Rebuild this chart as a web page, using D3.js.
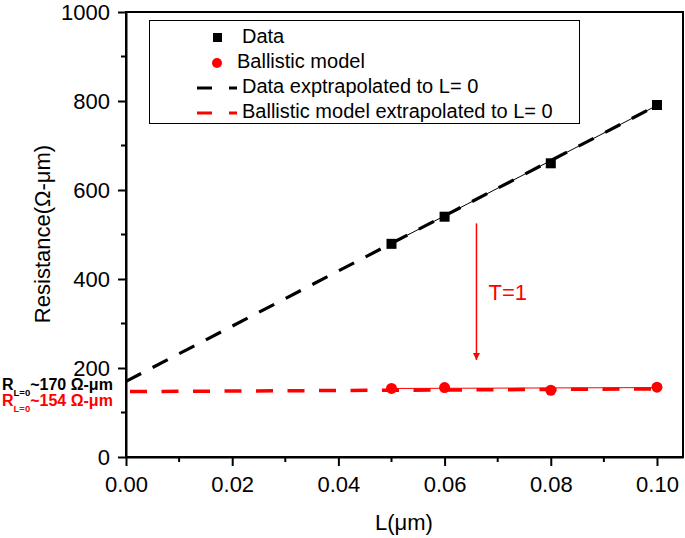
<!DOCTYPE html>
<html>
<head>
<meta charset="utf-8">
<script src="https://cdn.jsdelivr.net/npm/d3@7"></script>
<style>
  html, body { margin: 0; padding: 0; background: #fff; }
  svg { display: block; font-family: "Liberation Sans", Arial, sans-serif; }
</style>
</head>
<body>
<svg id="chart" width="685" height="538"></svg>
<script>
// ---- data ----
const lengths = [0.05, 0.06, 0.08, 0.10];
const dataR = [479, 540, 660, 791];
const ballisticR = [154, 156, 150, 157];
const dataExtrapL = [0, 0.10];
const dataExtrapR = [170, 790];
const ballExtrapL = [0, 0.10];
const ballExtrapR = [147, 153];
const dataFitL = [0.05, 0.10];
const dataFitR = [480, 790];
const ballFitL = [0.05, 0.10];
const ballFitR = [154, 156];
const xTicks = [0, 0.02, 0.04, 0.06, 0.08, 0.10];
const xMinorTicks = [0.01, 0.03, 0.05, 0.07, 0.09];
const yTicks = [0, 200, 400, 600, 800, 1000];
const yMinorTicks = [100, 300, 500, 700, 900];
const legendLabels = ["Data", "Ballistic model", "Data exptrapolated to L= 0", "Ballistic model extrapolated to L= 0"];
const arrowL = 0.066;
const arrowR = [525, 218];

(function () {
const svg = d3.select("#chart");
const mLeft = 126, mRight = 683, mTop = 12, mBottom = 457;
const x = d3.scaleLinear().domain([0, 0.1049]).range([mLeft, mRight]);
const y = d3.scaleLinear().domain([0, 1000]).range([mBottom, mTop]);
const red = "#ff0000";

// frame
svg.append("rect").attr("x", mLeft).attr("y", mTop).attr("width", mRight - mLeft).attr("height", mBottom - mTop)
  .attr("fill", "none").attr("stroke", "#000").attr("stroke-width", 2);

// x axis
const xAxis = svg.append("g").attr("transform", `translate(0,${mBottom})`)
  .call(d3.axisBottom(x).tickValues(xTicks).tickFormat(d3.format(".2f")).tickSize(9).tickSizeOuter(0));
xAxis.append("g").selectAll("line").data(xMinorTicks).join("line")
  .attr("x1", d => x(d)).attr("x2", d => x(d)).attr("y1", 0).attr("y2", 5).attr("stroke", "#000").attr("stroke-width", 2);
xAxis.select(".domain").attr("stroke-width", 2);
xAxis.selectAll(".tick line").attr("stroke-width", 2);
xAxis.selectAll(".tick text").attr("font-size", 22).attr("font-family", "Liberation Sans, Arial")
  .attr("fill", "#000").attr("y", 35).attr("dy", 0);

// y axis
const yAxis = svg.append("g").attr("transform", `translate(${mLeft},0)`)
  .call(d3.axisLeft(y).tickValues(yTicks).tickFormat(d3.format("d")).tickSize(8).tickSizeOuter(0).tickPadding(8));
yAxis.append("g").selectAll("line").data(yMinorTicks).join("line")
  .attr("y1", d => y(d)).attr("y2", d => y(d)).attr("x1", 0).attr("x2", -5).attr("stroke", "#000").attr("stroke-width", 2);
yAxis.select(".domain").attr("stroke-width", 2);
yAxis.selectAll(".tick line").attr("stroke-width", 2);
yAxis.selectAll(".tick text").attr("font-size", 22).attr("font-family", "Liberation Sans, Arial").attr("fill", "#000");

// axis titles
svg.append("text").attr("x", 404).attr("y", 530).attr("text-anchor", "middle")
  .attr("font-size", 22).text("L(μm)");
svg.append("text").attr("transform", "translate(50,234) rotate(-90)").attr("text-anchor", "middle")
  .attr("font-size", 22).text("Resistance(Ω-μm)");

const line = d3.line().x(d => x(d[0])).y(d => y(d[1]));

// thin fit lines
svg.append("path").attr("d", line(d3.zip(dataFitL, dataFitR))).attr("stroke", "#000").attr("stroke-width", 1).attr("fill", "none");
svg.append("path").attr("d", line(d3.zip(ballFitL, ballFitR))).attr("stroke", red).attr("stroke-width", 1).attr("fill", "none");

// dashed extrapolations
svg.append("path").attr("d", line(d3.zip(dataExtrapL, dataExtrapR))).attr("stroke", "#000").attr("stroke-width", 3.2)
  .attr("stroke-dasharray", "17,13").attr("fill", "none");
svg.append("path").attr("d", line(d3.zip(ballExtrapL, ballExtrapR))).attr("stroke", red).attr("stroke-width", 3.5)
  .attr("stroke-dasharray", "17,14.5").attr("stroke-dashoffset", -4).attr("fill", "none");

// markers
svg.append("g").selectAll("rect").data(d3.zip(lengths, dataR)).join("rect")
  .attr("x", d => x(d[0]) - 5).attr("y", d => y(d[1]) - 5).attr("width", 10).attr("height", 10).attr("fill", "#000");
svg.append("g").selectAll("circle").data(d3.zip(lengths, ballisticR)).join("circle")
  .attr("cx", d => x(d[0])).attr("cy", d => y(d[1])).attr("r", 5.5).attr("fill", red);

// arrow
svg.append("defs").append("marker").attr("id", "ah").attr("viewBox", "0 0 10 10").attr("refX", 10).attr("refY", 5)
  .attr("markerWidth", 7).attr("markerHeight", 11).attr("markerUnits", "userSpaceOnUse").attr("orient", "auto")
  .append("path").attr("d", "M0,0 L10,5 L0,10 Z").attr("fill", red);
svg.append("line").attr("x1", x(arrowL)).attr("x2", x(arrowL)).attr("y1", y(arrowR[0])).attr("y2", y(arrowR[1]))
  .attr("stroke", red).attr("stroke-width", 1.5).attr("marker-end", "url(#ah)");
svg.append("text").attr("x", x(arrowL) + 12).attr("y", 300).attr("font-size", 22).attr("fill", red).text("T=1");

// legend
const lg = svg.append("g");
lg.append("rect").attr("x", 149.5).attr("y", 20.5).attr("width", 430).attr("height", 103)
  .attr("fill", "#fff").attr("stroke", "#000").attr("stroke-width", 1);
const rowsY = [43, 68, 93, 118];
lg.append("rect").attr("x", 213).attr("y", rowsY[0] - 10).attr("width", 9).attr("height", 9).attr("fill", "#000");
lg.append("circle").attr("cx", 217).attr("cy", rowsY[1] - 5).attr("r", 5).attr("fill", red);
lg.append("line").attr("x1", 197).attr("x2", 237).attr("y1", rowsY[2] - 5).attr("y2", rowsY[2] - 5)
  .attr("stroke", "#000").attr("stroke-width", 3).attr("stroke-dasharray", "15,17");
lg.append("line").attr("x1", 197).attr("x2", 237).attr("y1", rowsY[3] - 5).attr("y2", rowsY[3] - 5)
  .attr("stroke", red).attr("stroke-width", 3).attr("stroke-dasharray", "15,17");
const textX = [242, 237, 242, 242];
legendLabels.forEach((t, i) => {
  lg.append("text").attr("x", textX[i]).attr("y", rowsY[i]).attr("font-size", 20).attr("fill", "#000").text(t);
});

// R annotations
function rLabel(yb, color, val) {
  const t = svg.append("text").attr("x", 2).attr("y", yb).attr("fill", color).attr("font-weight", "bold").attr("font-size", 16);
  t.append("tspan").text("R");
  t.append("tspan").attr("font-size", 9.5).attr("dy", 6).text("L=0");
  t.append("tspan").attr("dy", -6).text("~" + val + " Ω-μm");
}
rLabel(389.5, "#000", 170);
rLabel(406, red, 154);
})();
</script>
</body>
</html>
